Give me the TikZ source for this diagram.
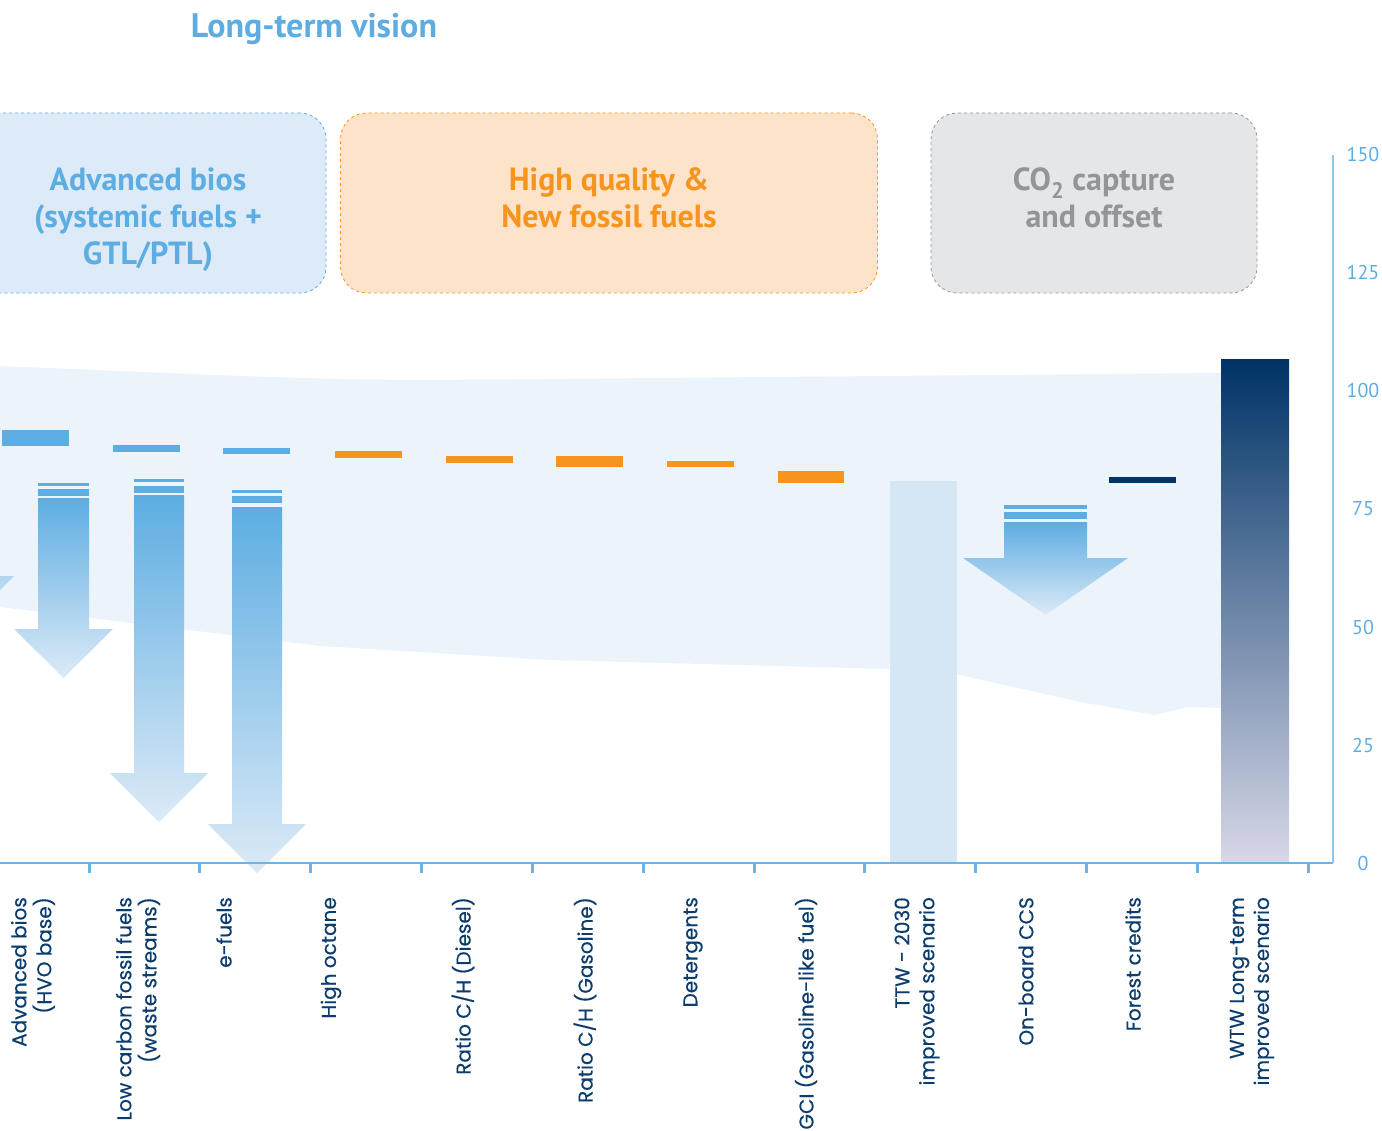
\documentclass[tikz,border=0pt]{standalone}
\usepackage{fontspec}
\setmainfont{PT Sans}
\newfontfamily\labelfont[FakeBold=0.4]{Poppins}
\definecolor{vblue}{HTML}{5DADE2}
\definecolor{vfade}{HTML}{DCEAF7}
\definecolor{vband}{HTML}{ECF4FB}
\definecolor{vttw}{HTML}{D5E6F5}
\definecolor{vboxblue}{HTML}{DDEAF7}
\definecolor{vorange}{HTML}{F7941D}
\definecolor{vpeach}{HTML}{FDE3C9}
\definecolor{vgrayfill}{HTML}{E5E6E8}
\definecolor{vgraytxt}{HTML}{939598}
\definecolor{vnavy}{HTML}{003366}
\definecolor{vlav}{HTML}{D8D8E8}
\definecolor{vlabel}{HTML}{0B3C6E}
\definecolor{vaxis}{HTML}{6DB3E5}
\begin{document}
\begin{tikzpicture}[x=1pt,y=-1pt,
    catlabel/.style={rotate=90,anchor=east,inner sep=0pt,align=right,text=vlabel,font=\labelfont\fontsize{20}{25}\selectfont},
    groupbox/.style={dashed,rounded corners=26pt,line width=0.8pt,minimum height=180pt,inner sep=0pt},
    boxtext/.style={align=center,font=\bfseries\fontsize{32}{37}\selectfont},
    ticklabel/.style={text=vblue,inner sep=0pt,font=\fontsize{20}{22}\selectfont},
    axisline/.style={draw=vaxis,line width=2pt}]
    \useasboundingbox (0,0) rectangle (1382,1131);
    \clip (0,0) rectangle (1382,1131);

    % Title
    \node[text=vblue,font=\bfseries\fontsize{34}{40}\selectfont] (title) at (314,29) {Long-term vision};

    % Group boxes
    \node[groupbox,draw=vblue,fill=vboxblue,minimum width=356pt] (bioBox) at (148,203) {};
    \node[groupbox,draw=vorange,fill=vpeach,minimum width=537pt] (fossilBox) at (609,203) {};
    \node[groupbox,draw=vgraytxt,fill=vgrayfill,minimum width=326pt] (offsetBox) at (1094,203) {};
    \node[boxtext,text=vblue] (bioText) at (148,220) {Advanced bios\\(systemic fuels +\\GTL/PTL)};
    \node[boxtext,text=vorange] (fossilText) at (609,198) {High quality \&\\New fossil fuels};
    \node[boxtext,text=vgraytxt] (offsetText) at (1094,198) {CO\textsubscript{2} capture\\and offset};

    % Background band
    \fill[vband] (0,366) .. controls (150,372) and (300,380) .. (430,380) -- (1221,373)
        -- (1221,708) -- (1187,707) -- (1155,715) -- (1080,702) -- (960,675) -- (890,669)
        -- (550,660) -- (320,646) -- (0,607) -- cycle;

    % Reduction arrows
    \foreach \l/\r/\t/\h/\e/\tip in {-60/-10/480/576/24/625,38/89/498/629/24/678,134/184/495/773/24/822,232/282/507/824/24/873,1004/1087/522/558/41/615}
    {
        \shade[top color=vblue,bottom color=vfade] (\l,\t) -- (\r,\t) -- (\r,\h) -- (\r+\e,\h)
            -- ({(\l+\r)/2},\tip) -- (\l-\e,\h) -- (\l,\h) -- cycle;
    }
    \foreach \l/\r/\a/\b in {38/89/483/486,38/89/489/496,134/184/479/482,134/184/486/493,232/282/490/493,232/282/496/503,1004/1087/505/509,1004/1087/512/519}
        \fill[vblue] (\l,\a) rectangle (\r,\b);

    % Level bars
    \foreach \l/\r/\a/\b in {2/69/430/446,113/180/445/452,223/290/448/454}
        \fill[vblue] (\l,\a) rectangle (\r,\b);
    \foreach \l/\r/\a/\b in {335/402/451/458,446/513/456/463,556/623/456/467,667/734/461/467,778/844/471/483}
        \fill[vorange] (\l,\a) rectangle (\r,\b);
    \fill[vnavy] (1109,477) rectangle (1176,483);

    % Scenario bars
    \fill[vttw] (890,481) rectangle (957,863);
    \shade[top color=vnavy,bottom color=vlav] (1221,360) rectangle (1289,863);

    % Axes
    \draw[axisline] (0,863) -- (1333,863);
    \draw[axisline,draw=vaxis!75] (1333,155) -- (1333,863);
    \foreach \x in {89,199,310,421,532,643,754,864,975,1086,1197,1308}
        \draw[axisline,line width=3pt] (\x,863) -- (\x,873);
    \foreach \v in {0,25,...,150}
        \node[ticklabel] (tick\v) at (1363,{863-4.72*\v}) {\v};

    % Category labels
    \foreach \x/\name/\txt in {33/hvo/{Advanced bios\\(HVO base)},138/lowc/{Low carbon fossil fuels\\(waste streams)},224/efuel/{e-fuels},331/octane/{High octane},463/diesel/{Ratio C/H (Diesel)},585/gasoline/{Ratio C/H (Gasoline)},693/deterg/{Detergents},806/gci/{GCI (Gasoline-like fuel)},917/ttw/{TTW - 2030\\improved scenario},1026/ccs/{On-board CCS},1133/forest/{Forest credits},1252/wtw/{WTW Long-term\\improved scenario}}
        \node[catlabel] (lbl\name) at (\x,897) {\txt};
\end{tikzpicture}
\end{document}
